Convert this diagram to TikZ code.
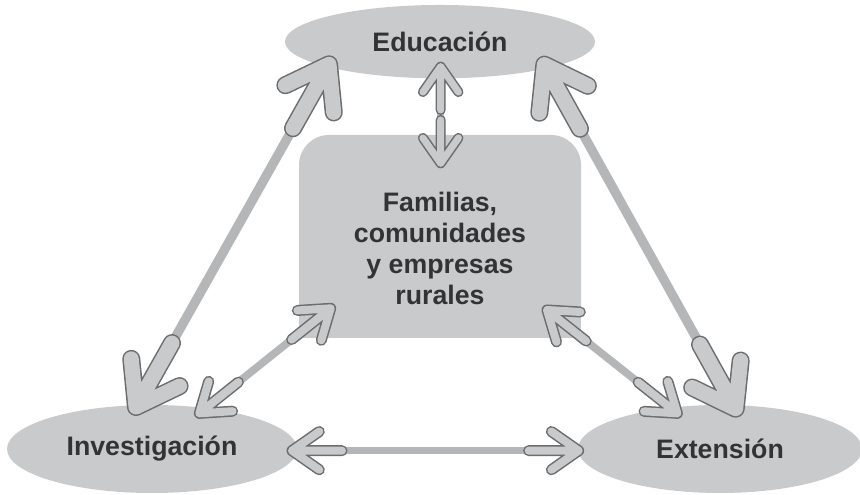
\documentclass[tikz,border=0pt]{standalone}
\usepackage{fontspec}
\setmainfont{Liberation Sans}
\usepackage{tikz}
\usetikzlibrary{shapes.geometric,calc}
\definecolor{nodegray}{RGB}{201,202,204}
\definecolor{shaftgray}{RGB}{180,182,183}
\definecolor{edgegray}{RGB}{108,109,111}
\definecolor{textgray}{RGB}{51,51,51}

% two-headed link: end a, end b, arm, stub, shaft width, head width
\newcommand{\link}[6]{%
  \draw[shaft, line width=#5] (#1) -- (#2);
  \draw[head, double distance=#6] ($(#1)!#3!35:(#2)$) -- (#1) -- ($(#1)!#3!-35:(#2)$) (#1) -- ($(#1)!#4!(#2)$);
  \draw[head, double distance=#6] ($(#2)!#3!35:(#1)$) -- (#2) -- ($(#2)!#3!-35:(#1)$) (#2) -- ($(#2)!#4!(#1)$);
}

\begin{document}
\begin{tikzpicture}[
        oval/.style={ellipse, fill=nodegray, font=\fontsize{22.8}{26.5}\selectfont\bfseries, text=textgray, inner sep=0pt},
        block/.style={rectangle, rounded corners=0.9cm, fill=nodegray},
        blocktext/.style={align=center, font=\fontsize{22.8}{26.5}\selectfont\bfseries, text=textgray},
        shaft/.style={draw=shaftgray},
        head/.style={draw=edgegray, double=nodegray, line width=1.3pt, line cap=round, line join=round}
    ]
        \clip (0,0) rectangle (25.8,14.85);

        % Areas
        \node[oval, minimum width=9.3cm, minimum height=2.2cm] (edu) at (13.2,13.6) {Educación};
        \node[oval, minimum width=8.7cm, minimum height=2.64cm] (inv) at (4.56,1.38) {Investigación};
        \node[oval, minimum width=8.52cm, minimum height=2.64cm] (ext) at (21.6,1.38) {Extensión};

        % Centre
        \node[block, minimum width=8.46cm, minimum height=6.09cm] (fam) at (13.2,7.755) {};
        \fill[nodegray] (fam.west) rectangle (fam.south east);
        \node[blocktext] (famtxt) at ([yshift=-0.35cm]fam.center) {Familias,\\comunidades\\y empresas\\rurales};

        % Arrow ends
        \coordinate (inv-edu) at (4.08,2.64);
        \coordinate (edu-inv) at (9.87,12.92);
        \coordinate (edu-ext) at (16.33,12.91);
        \coordinate (ext-edu) at (22.07,2.59);
        \coordinate (inv-ext) at (8.76,1.33);
        \coordinate (ext-inv) at (17.36,1.33);
        \coordinate (fam-inv) at (9.92,5.60);
        \coordinate (inv-fam) at (5.98,2.45);
        \coordinate (fam-ext) at (16.41,5.55);
        \coordinate (ext-fam) at (20.32,2.45);
        \coordinate (edu-fam) at (13.22,12.85);
        \coordinate (fam-edu) at (13.22,9.95);

        % Links
        \link{inv-edu}{edu-inv}{1.45cm}{2.2cm}{0.28cm}{0.45cm}
        \link{edu-ext}{ext-edu}{1.45cm}{2.2cm}{0.28cm}{0.45cm}
        \link{inv-ext}{ext-inv}{1.0cm}{1.5cm}{0.23cm}{0.24cm}
        \link{fam-inv}{inv-fam}{1.0cm}{1.5cm}{0.23cm}{0.24cm}
        \link{fam-ext}{ext-fam}{1.0cm}{1.5cm}{0.23cm}{0.24cm}
        \link{edu-fam}{fam-edu}{0.93cm}{1.3cm}{0.2cm}{0.21cm}

    \end{tikzpicture}
\end{document}
